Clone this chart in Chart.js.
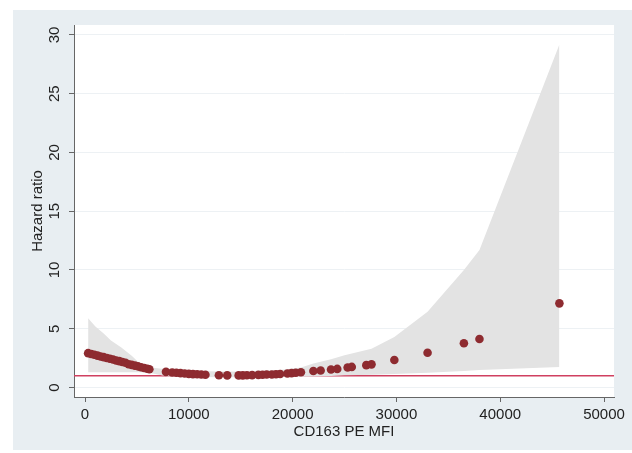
<!DOCTYPE html>
<html>
<head>
<meta charset="utf-8">
<script src="https://cdn.jsdelivr.net/npm/chart.js@4.4.0/dist/chart.umd.min.js"></script>
<style>
  html, body { margin: 0; padding: 0; background: #fff; }
  #chart { display: block; }
</style>
</head>
<body>
<canvas id="chart" width="632" height="453"></canvas>
<script>
// hazard ratio estimates (dots)
const hrX = [300, 600, 900, 1200, 1500, 1800, 2100, 2400, 2700, 3000, 3300, 3600, 3900, 4200, 4500,
  4800, 5100, 5400, 5700, 6000, 6200, 7800, 8400, 8800, 9200, 9600, 10000, 10400, 10800, 11200,
  11600, 12900, 13700, 14800, 15200, 15600, 16100, 16700, 17100, 17500, 18000, 18400, 18800, 19500,
  19900, 20300, 20800, 22000, 22700, 23700, 24300, 25300, 25700, 27100, 27600, 29800, 33000, 36500,
  38000, 45700]
const hrY = [2.92, 2.85, 2.78, 2.71, 2.64, 2.58, 2.51, 2.45, 2.38, 2.3, 2.24, 2.17, 2.1, 1.98, 1.92,
  1.86, 1.8, 1.72, 1.66, 1.6, 1.55, 1.33, 1.28, 1.25, 1.22, 1.19, 1.16, 1.14, 1.12, 1.1,
  1.09, 1.04, 1.03, 1.03, 1.03, 1.04, 1.05, 1.07, 1.08, 1.1, 1.11, 1.13, 1.15, 1.19,
  1.22, 1.25, 1.3, 1.4, 1.44, 1.53, 1.58, 1.7, 1.75, 1.9, 1.97, 2.34, 2.96, 3.76,
  4.13, 7.16]

// confidence band
const bandX = [300, 1000, 1800, 2500, 3500, 4500, 5100, 6000, 6200, 7800, 10000, 13000, 16000,
  19000, 20800, 22000, 23700, 25000, 27600, 29800, 33000, 36500, 38000, 45700]
const bandLow = [1.3, 1.3, 1.3, 1.3, 1.3, 1.3, 1.3, 1.3, 1.26, 0.95, 0.9, 0.88, 0.88,
  0.9, 0.92, 0.94, 0.98, 1.04, 1.09, 1.15, 1.25, 1.4, 1.48, 1.74]
const bandHigh = [5.9, 5.2, 4.6, 4.0, 3.4, 2.7, 2.2, 1.8, 1.72, 1.55, 1.42, 1.36, 1.36,
  1.5, 1.7, 2.05, 2.4, 2.75, 3.3, 4.3, 6.45, 10.0, 11.7, 29.2]

const refValue = 1

const xTicks = [0, 10000, 20000, 30000, 40000, 50000]
const yTicks = [0, 5, 10, 15, 20, 25, 30]
const xRange = [-1060, 50960]
const yRange = [-0.81, 30.85]

Chart.defaults.font.family = '"Liberation Sans", Arial, Helvetica, sans-serif'
Chart.defaults.font.size = 15
Chart.defaults.color = '#222'

const pts = (xs, ys) => xs.map((x, i) => ({ x: x, y: ys[i] }))

// stata-like background panels
const panels = {
  id: 'panels',
  beforeDraw(chart) {
    const { ctx, chartArea } = chart
    ctx.save()
    ctx.fillStyle = '#fff'
    ctx.fillRect(0, 0, chart.width, chart.height)
    ctx.fillStyle = '#e8eef2'
    ctx.fillRect(13, 10, chart.width - 13, 440)
    ctx.fillStyle = '#fff'
    ctx.fillRect(chartArea.left, chartArea.top, chartArea.right - chartArea.left, chartArea.bottom - chartArea.top)
    ctx.restore()
  }
}

new Chart(document.getElementById('chart'), {
  type: 'line',
  data: {
    datasets: [
      {
        label: 'HR',
        order: 0,
        data: pts(hrX, hrY),
        showLine: false,
        pointRadius: 4.3,
        pointBackgroundColor: '#8e2b30',
        pointBorderWidth: 0
      },
      {
        label: 'upper',
        order: 1,
        data: pts(bandX, bandHigh),
        borderWidth: 0,
        pointRadius: 0,
        fill: '+1',
        backgroundColor: '#e3e3e3'
      },
      {
        label: 'lower',
        order: 2,
        data: pts(bandX, bandLow),
        borderWidth: 0,
        pointRadius: 0,
        fill: false
      },
      {
        label: 'ref',
        order: 3,
        data: pts(xRange, [refValue, refValue]),
        borderColor: '#d04060',
        borderWidth: 1.5,
        pointRadius: 0,
        fill: false
      }
    ]
  },
  options: {
    responsive: false,
    animation: false,
    layout: { padding: { left: 0, top: 25, right: 18, bottom: 0 } },
    plugins: {
      legend: { display: false },
      tooltip: { enabled: false },
      filler: { drawTime: 'beforeDatasetDraw' }
    },
    scales: {
      x: {
        type: 'linear',
        min: xRange[0],
        max: xRange[1],
        afterBuildTicks: s => { s.ticks = xTicks.map(v => ({ value: v })) },
        afterFit: s => { s.height = 56 },
        ticks: { padding: 4, callback: v => String(v) },
        grid: { drawOnChartArea: false, tickLength: 5, tickColor: '#666' },
        border: { color: '#666', width: 1 },
        title: { display: true, text: 'CD163 PE MFI', padding: { top: 0, bottom: 12 } }
      },
      y: {
        type: 'linear',
        min: yRange[0],
        max: yRange[1],
        afterBuildTicks: s => { s.ticks = yTicks.map(v => ({ value: v })) },
        afterFit: s => { s.width = 74 },
        ticks: { minRotation: 90, maxRotation: 90, crossAlign: 'center', padding: 6 },
        grid: { color: '#edf1f4', tickLength: 5, tickColor: '#666' },
        border: { color: '#666', width: 1 },
        title: { display: true, text: 'Hazard ratio', padding: { top: 29, bottom: 0 } }
      }
    }
  },
  plugins: [panels]
})
</script>
</body>
</html>
